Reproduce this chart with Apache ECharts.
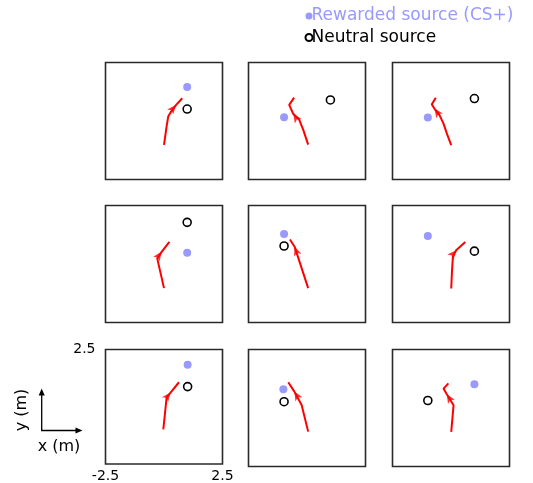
<!DOCTYPE html>
<html><head><meta charset="utf-8">
<script src="https://cdn.jsdelivr.net/npm/echarts@6/dist/echarts.min.js"></script>
<style>html,body{margin:0;padding:0;background:#fff}#c{width:533px;height:483px}</style>
</head><body><div id="c"></div>
<script>
// ---- data (metres) ----
const axisRange = [-2.5, 2.5];
const xTickLabels = [-2.5, 2.5];
const yTickLabels = [2.5];

const traj1 = [[0.0,-1.02],[0.11,-0.24],[0.18,0.19],[0.30,0.40],[0.51,0.68],[0.78,0.97]];
const traj2 = [[0.05,-1.01],[-0.16,-0.38],[-0.33,0.05],[-0.59,0.31],[-0.76,0.69],[-0.55,1.0]];
const traj3 = [[0.01,-1.03],[-0.18,-0.53],[-0.32,-0.11],[-0.49,0.25],[-0.71,0.53],[-0.82,0.71],[-0.65,0.99]];
const traj4 = [[0.0,-1.03],[-0.29,0.24],[-0.10,0.52],[0.23,0.95]];
const traj5 = [[0.05,-1.03],[-0.53,0.74],[-0.73,1.05]];
const traj6 = [[0.01,-1.05],[0.04,-0.34],[0.08,0.30],[0.22,0.59],[0.61,0.94]];
const traj7 = [[-0.03,-0.99],[0.04,-0.31],[0.11,0.40],[0.28,0.62],[0.64,1.07]];
const traj8 = [[0.05,-1.01],[-0.23,0.13],[-0.54,0.70],[-0.80,1.10]];
const traj9 = [[0.01,-1.02],[0.11,0.12],[-0.18,0.59],[-0.32,0.83],[-0.11,1.05]];
const trajectories = [traj1,traj2,traj3,traj4,traj5,traj6,traj7,traj8,traj9];
const arrowIndex = [4,3,4,2,1,3,3,2,2];

const rewardedSource = [[0.99,1.45],[-0.98,0.16],[-0.99,0.15],[0.99,0.48],[-0.98,1.28],[-0.99,1.20],[1.01,1.83],[-1.01,0.80],[1.00,1.02]];
const neutralSource  = [[0.99,0.51],[1.00,0.90],[1.00,0.96],[0.99,1.78],[-0.98,0.77],[1.00,0.55],[1.01,0.88],[-0.98,0.27],[-0.99,0.32]];

const rewardName = 'Rewarded source (CS+)';
const neutralName = 'Neutral source';

// ---- layout ----
const FONT = 'DejaVu Sans';
const colLeft = [105.5, 248.5, 392.5];
const rowTop = [62.5, 205.5, 349.5];
const SIZE = 117;

const grids = [], xAxes = [], yAxes = [], series = [];
for (let i = 0; i < 9; i++) {
  const r = Math.floor(i / 3), c = i % 3;
  const labelled = (i === 6);
  grids.push({left: colLeft[c], top: rowTop[r], width: SIZE, height: SIZE,
    show: true, borderColor: '#2a2a2a', borderWidth: 1.6, backgroundColor: 'transparent'});
  xAxes.push({gridIndex: i, type: 'value', min: axisRange[0], max: axisRange[1],
    axisLine: {show: false}, axisTick: {show: false}, splitLine: {show: false},
    axisLabel: labelled ? {show: true, customValues: xTickLabels, margin: 5,
      fontFamily: FONT, fontSize: 14, color: '#000', formatter: v => String(v)} : {show: false}});
  yAxes.push({gridIndex: i, type: 'value', min: axisRange[0], max: axisRange[1],
    axisLine: {show: false}, axisTick: {show: false}, splitLine: {show: false},
    axisLabel: labelled ? {show: true, customValues: yTickLabels, margin: 10,
      fontFamily: FONT, fontSize: 14, color: '#000', formatter: v => String(v)} : {show: false}});

  const t = trajectories[i];
  const k = arrowIndex[i];
  const a = t[k - 1], b = t[k + 1];
  const ang = Math.atan2(b[1] - a[1], b[0] - a[0]) * 180 / Math.PI;

  series.push({type: 'line', xAxisIndex: i, yAxisIndex: i, data: t,
    symbol: 'none', showSymbol: false, silent: true, z: 2,
    lineStyle: {color: '#ff0000', width: 2}});
  series.push({type: 'scatter', xAxisIndex: i, yAxisIndex: i, data: [t[k]],
    symbol: 'arrow', symbolSize: [6, 9], symbolRotate: ang - 90, silent: true, z: 3,
    itemStyle: {color: '#ff0000'}});
  series.push({name: rewardName, type: 'scatter', xAxisIndex: i, yAxisIndex: i,
    data: [rewardedSource[i]], symbol: 'circle', symbolSize: 8, z: 4,
    itemStyle: {color: '#9999ff', opacity: 1}});
  series.push({name: neutralName, type: 'scatter', xAxisIndex: i, yAxisIndex: i,
    data: [neutralSource[i]], symbol: 'circle', symbolSize: 8, z: 4,
    itemStyle: {color: '#ffffff', borderColor: '#000', borderWidth: 1.6, opacity: 1}});
}

const chart = echarts.init(document.getElementById('c'), null, {renderer: 'canvas'});
chart.setOption({
  animation: false,
  backgroundColor: '#fff',
  grid: grids, xAxis: xAxes, yAxis: yAxes, series: series,
  legend: {
    orient: 'vertical', left: 304.5, top: 7.5,
    itemWidth: 7, itemHeight: 7, itemGap: 4.5, padding: 0,
    icon: 'circle',
    textStyle: {fontFamily: FONT, fontSize: 17, padding: [0, 0, 0, -6]},
    data: [
      {name: rewardName, textStyle: {color: '#9999ff'}},
      {name: neutralName, textStyle: {color: '#000'}}
    ],
    selectedMode: false
  },
  graphic: [
    {type: 'line', shape: {x1: 41.7, y1: 430.5, x2: 41.7, y2: 394}, style: {stroke: '#000', lineWidth: 1.3}},
    {type: 'polygon', shape: {points: [[41.7, 388.5], [38.7, 395.5], [44.7, 395.5]]}, style: {fill: '#000'}},
    {type: 'line', shape: {x1: 41.1, y1: 430.5, x2: 77, y2: 430.5}, style: {stroke: '#000', lineWidth: 1.3}},
    {type: 'polygon', shape: {points: [[82.5, 430.5], [75.5, 427.5], [75.5, 433.5]]}, style: {fill: '#000'}},
    {type: 'text', x: 22, y: 410, rotation: Math.PI / 2,
      style: {text: 'y (m)', fill: '#000', font: '16px "DejaVu Sans"', align: 'center', verticalAlign: 'middle'}},
    {type: 'text', x: 59, y: 447,
      style: {text: 'x (m)', fill: '#000', font: '16px "DejaVu Sans"', align: 'center', verticalAlign: 'middle'}}
  ]
});
</script>
</body></html>
